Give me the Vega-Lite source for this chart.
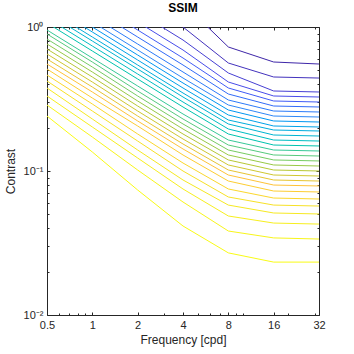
{
"$schema": "https://vega.github.io/schema/vega-lite/v6.json",
"width": 272, "height": 288,
"autosize": {"type": "none"},
"padding": {"left": 47, "top": 27, "right": 35, "bottom": 39},
"background": "white",
"config": {"view": {"stroke": "#262626", "strokeWidth": 1}, "font": "Liberation Sans",
 "axis": {"domain": false, "grid": false, "labelColor": "#262626", "titleColor": "#262626", "tickColor": "#262626", "labelFont": "Liberation Sans", "titleFont": "Liberation Sans", "labelFontSize": 11, "titleFontSize": 12, "titleFontWeight": "normal"}},
"title": {"text": "SSIM", "fontSize": 12, "fontWeight": "bold", "font": "Liberation Sans", "color": "#000", "offset": 6, "frame": "group"},
"data": {"values": [
{"k":1,"f":2,"c":2.297},{"k":1,"f":4,"c":1.468},{"k":1,"f":8,"c":0.7263},{"k":1,"f":16,"c":0.5714},{"k":1,"f":32,"c":0.5534},
{"k":2,"f":1,"c":2.448},{"k":2,"f":2,"c":1.565},{"k":2,"f":4,"c":1.0},{"k":2,"f":8,"c":0.5623},{"k":2,"f":16,"c":0.4496},{"k":2,"f":32,"c":0.4421},
{"k":3,"f":1,"c":1.989},{"k":3,"f":2,"c":1.271},{"k":3,"f":4,"c":0.8122},{"k":3,"f":8,"c":0.4793},{"k":3,"f":16,"c":0.3594},{"k":3,"f":32,"c":0.3537},
{"k":4,"f":0.5,"c":2.652},{"k":4,"f":1,"c":1.695},{"k":4,"f":2,"c":1.083},{"k":4,"f":4,"c":0.6923},{"k":4,"f":8,"c":0.4150},{"k":4,"f":16,"c":0.3318},{"k":4,"f":32,"c":0.3265},
{"k":5,"f":0.5,"c":2.334},{"k":5,"f":1,"c":1.492},{"k":5,"f":2,"c":0.9532},{"k":5,"f":4,"c":0.6091},{"k":5,"f":8,"c":0.3771},{"k":5,"f":16,"c":0.3063},{"k":5,"f":32,"c":0.3014},
{"k":6,"f":0.5,"c":2.086},{"k":6,"f":1,"c":1.334},{"k":6,"f":2,"c":0.8522},{"k":6,"f":4,"c":0.5446},{"k":6,"f":8,"c":0.3425},{"k":6,"f":16,"c":0.2827},{"k":6,"f":32,"c":0.2783},
{"k":7,"f":0.5,"c":1.866},{"k":7,"f":1,"c":1.192},{"k":7,"f":2,"c":0.7619},{"k":7,"f":4,"c":0.4870},{"k":7,"f":8,"c":0.3112},{"k":7,"f":16,"c":0.2610},{"k":7,"f":32,"c":0.2569},
{"k":8,"f":0.5,"c":1.695},{"k":8,"f":1,"c":1.083},{"k":8,"f":2,"c":0.6923},{"k":8,"f":4,"c":0.4421},{"k":8,"f":8,"c":0.2873},{"k":8,"f":16,"c":0.2409},{"k":8,"f":32,"c":0.2371},
{"k":9,"f":0.5,"c":1.565},{"k":9,"f":1,"c":1.0},{"k":9,"f":2,"c":0.6390},{"k":9,"f":4,"c":0.4084},{"k":9,"f":8,"c":0.2652},{"k":9,"f":16,"c":0.2225},{"k":9,"f":32,"c":0.2189},
{"k":10,"f":0.5,"c":1.445},{"k":10,"f":1,"c":0.9232},{"k":10,"f":2,"c":0.5899},{"k":10,"f":4,"c":0.3771},{"k":10,"f":8,"c":0.2448},{"k":10,"f":16,"c":0.2054},{"k":10,"f":32,"c":0.2021},
{"k":11,"f":0.5,"c":1.334},{"k":11,"f":1,"c":0.8522},{"k":11,"f":2,"c":0.5446},{"k":11,"f":4,"c":0.3481},{"k":11,"f":8,"c":0.2260},{"k":11,"f":16,"c":0.1926},{"k":11,"f":32,"c":0.1896},
{"k":12,"f":0.5,"c":1.251},{"k":12,"f":1,"c":0.7993},{"k":12,"f":2,"c":0.5109},{"k":12,"f":4,"c":0.3265},{"k":12,"f":8,"c":0.2121},{"k":12,"f":16,"c":0.1778},{"k":12,"f":32,"c":0.1750},
{"k":13,"f":0.5,"c":1.155},{"k":13,"f":1,"c":0.7379},{"k":13,"f":2,"c":0.4717},{"k":13,"f":4,"c":0.3014},{"k":13,"f":8,"c":0.1957},{"k":13,"f":16,"c":0.1641},{"k":13,"f":32,"c":0.1615},
{"k":14,"f":0.5,"c":1.066},{"k":14,"f":1,"c":0.6813},{"k":14,"f":2,"c":0.4353},{"k":14,"f":4,"c":0.2783},{"k":14,"f":8,"c":0.1807},{"k":14,"f":16,"c":0.1515},{"k":14,"f":32,"c":0.1492},
{"k":15,"f":0.5,"c":0.9532},{"k":15,"f":1,"c":0.6091},{"k":15,"f":2,"c":0.3893},{"k":15,"f":4,"c":0.2488},{"k":15,"f":8,"c":0.1641},{"k":15,"f":16,"c":0.1399},{"k":15,"f":32,"c":0.1377},
{"k":16,"f":0.5,"c":0.8941},{"k":16,"f":1,"c":0.5714},{"k":16,"f":2,"c":0.3594},{"k":16,"f":4,"c":0.2297},{"k":16,"f":8,"c":0.1515},{"k":16,"f":16,"c":0.1292},{"k":16,"f":32,"c":0.1271},
{"k":17,"f":0.5,"c":0.8254},{"k":17,"f":1,"c":0.5275},{"k":17,"f":2,"c":0.3318},{"k":17,"f":4,"c":0.2121},{"k":17,"f":8,"c":0.1399},{"k":17,"f":16,"c":0.1193},{"k":17,"f":32,"c":0.1174},
{"k":18,"f":0.5,"c":0.7619},{"k":18,"f":1,"c":0.4870},{"k":18,"f":2,"c":0.3063},{"k":18,"f":4,"c":0.1957},{"k":18,"f":8,"c":0.1292},{"k":18,"f":16,"c":0.1101},{"k":18,"f":32,"c":0.1083},
{"k":19,"f":0.5,"c":0.7035},{"k":19,"f":1,"c":0.4496},{"k":19,"f":2,"c":0.2827},{"k":19,"f":4,"c":0.1807},{"k":19,"f":8,"c":0.1193},{"k":19,"f":16,"c":0.1016},{"k":19,"f":32,"c":0.1000},
{"k":20,"f":0.5,"c":0.6494},{"k":20,"f":1,"c":0.4150},{"k":20,"f":2,"c":0.2610},{"k":20,"f":4,"c":0.1668},{"k":20,"f":8,"c":0.1101},{"k":20,"f":16,"c":0.0938},{"k":20,"f":32,"c":0.0923},
{"k":21,"f":0.5,"c":0.5995},{"k":21,"f":1,"c":0.3831},{"k":21,"f":2,"c":0.2409},{"k":21,"f":4,"c":0.1540},{"k":21,"f":8,"c":0.1016},{"k":21,"f":16,"c":0.0866},{"k":21,"f":32,"c":0.0852},
{"k":22,"f":0.5,"c":0.5534},{"k":22,"f":1,"c":0.3537},{"k":22,"f":2,"c":0.2225},{"k":22,"f":4,"c":0.1422},{"k":22,"f":8,"c":0.0938},{"k":22,"f":16,"c":0.0799},{"k":22,"f":32,"c":0.0787},
{"k":23,"f":0.5,"c":0.5109},{"k":23,"f":1,"c":0.3213},{"k":23,"f":2,"c":0.2054},{"k":23,"f":4,"c":0.1292},{"k":23,"f":8,"c":0.0852},{"k":23,"f":16,"c":0.0726},{"k":23,"f":32,"c":0.0715},
{"k":24,"f":0.5,"c":0.4642},{"k":24,"f":1,"c":0.2919},{"k":24,"f":2,"c":0.1807},{"k":24,"f":4,"c":0.1136},{"k":24,"f":8,"c":0.0750},{"k":24,"f":16,"c":0.0649},{"k":24,"f":32,"c":0.0639},
{"k":25,"f":0.5,"c":0.4217},{"k":25,"f":1,"c":0.2610},{"k":25,"f":2,"c":0.1615},{"k":25,"f":4,"c":0.1000},{"k":25,"f":8,"c":0.0660},{"k":25,"f":16,"c":0.0580},{"k":25,"f":32,"c":0.0571},
{"k":26,"f":0.5,"c":0.3771},{"k":26,"f":1,"c":0.2297},{"k":26,"f":2,"c":0.1399},{"k":26,"f":4,"c":0.0866},{"k":26,"f":8,"c":0.0580},{"k":26,"f":16,"c":0.0511},{"k":26,"f":32,"c":0.0503},
{"k":27,"f":0.5,"c":0.3318},{"k":27,"f":1,"c":0.2021},{"k":27,"f":2,"c":0.1231},{"k":27,"f":4,"c":0.0750},{"k":27,"f":8,"c":0.0487},{"k":27,"f":16,"c":0.0435},{"k":27,"f":32,"c":0.0428},
{"k":28,"f":0.5,"c":0.2873},{"k":28,"f":1,"c":0.1722},{"k":28,"f":2,"c":0.1016},{"k":28,"f":4,"c":0.0609},{"k":28,"f":8,"c":0.0383},{"k":28,"f":16,"c":0.0343},{"k":28,"f":32,"c":0.0337},
{"k":29,"f":0.5,"c":0.2409},{"k":29,"f":1,"c":0.1355},{"k":29,"f":2,"c":0.0738},{"k":29,"f":4,"c":0.0415},{"k":29,"f":8,"c":0.0270},{"k":29,"f":16,"c":0.0233},{"k":29,"f":32,"c":0.0233}
]},
"layer": [
{"mark": {"type": "line", "strokeWidth": 1, "clip": true},
 "encoding": {
  "x": {"field": "f", "type": "quantitative", "scale": {"type": "log", "base": 2, "domain": [0.5, 32], "nice": false},
        "axis": {"orient": "bottom", "values": [0.5,1,2,4,8,16,32], "labelExpr": "datum.value + ''", "tickSize": -3, "labelPadding": 7, "title": "Frequency [cpd]", "titlePadding": 4, "labelFlush": false}},
  "y": {"field": "c", "type": "quantitative", "scale": {"type": "log", "domain": [0.01, 1], "nice": false},
        "axis": {"orient": "left", "values": [0.01, 0.1, 1], "labelExpr": "datum.value == 1 ? '10⁰' : datum.value == 0.1 ? '10⁻¹' : '10⁻²'", "tickSize": -3, "labelPadding": 7, "title": "Contrast", "titlePadding": 6, "labelFlush": false}},
  "color": {"field": "k", "type": "quantitative", "scale": {"domain": [1, 29], "range": ["#3E26A8","#4852F4","#2E87F7","#12B1D6","#37C897","#ABC739","#FEC338","#F5E624","#F9FB15"]}, "legend": null},
  "detail": {"field": "k", "type": "nominal"}
 }},
{"mark": {"type": "line", "opacity": 0, "clip": true},
 "encoding": {
  "x": {"field": "f", "type": "quantitative", "scale": {"type": "log", "base": 2, "domain": [0.5, 32], "nice": false},
        "axis": {"orient": "bottom", "values": [0.6,0.7,0.8,0.9,3,5,6,7,9,10,20,30], "labels": false, "tickSize": -2, "title": null}},
  "y": {"field": "c", "type": "quantitative", "scale": {"type": "log", "domain": [0.01, 1], "nice": false},
        "axis": {"orient": "left", "values": [0.02,0.03,0.04,0.05,0.06,0.07,0.08,0.09,0.2,0.3,0.4,0.5,0.6,0.7,0.8,0.9], "labels": false, "tickSize": -2, "title": null}},
  "detail": {"field": "k", "type": "nominal"}
 }},
{"mark": {"type": "line", "opacity": 0, "clip": true},
 "encoding": {
  "x": {"field": "f", "type": "quantitative", "scale": {"type": "log", "base": 2, "domain": [0.5, 32], "nice": false},
        "axis": {"orient": "top", "values": [0.5,1,2,4,8,16,32], "labels": false, "tickSize": -3, "title": null}},
  "y": {"field": "c", "type": "quantitative", "scale": {"type": "log", "domain": [0.01, 1], "nice": false},
        "axis": {"orient": "right", "values": [0.01, 0.1, 1], "labels": false, "tickSize": -3, "title": null}},
  "detail": {"field": "k", "type": "nominal"}
 }},
{"mark": {"type": "line", "opacity": 0, "clip": true},
 "encoding": {
  "x": {"field": "f", "type": "quantitative", "scale": {"type": "log", "base": 2, "domain": [0.5, 32], "nice": false},
        "axis": {"orient": "top", "values": [0.6,0.7,0.8,0.9,3,5,6,7,9,10,20,30], "labels": false, "tickSize": -2, "title": null}},
  "y": {"field": "c", "type": "quantitative", "scale": {"type": "log", "domain": [0.01, 1], "nice": false},
        "axis": {"orient": "right", "values": [0.02,0.03,0.04,0.05,0.06,0.07,0.08,0.09,0.2,0.3,0.4,0.5,0.6,0.7,0.8,0.9], "labels": false, "tickSize": -2, "title": null}},
  "detail": {"field": "k", "type": "nominal"}
 }}
],
"resolve": {"axis": {"x": "independent", "y": "independent"}}
}
